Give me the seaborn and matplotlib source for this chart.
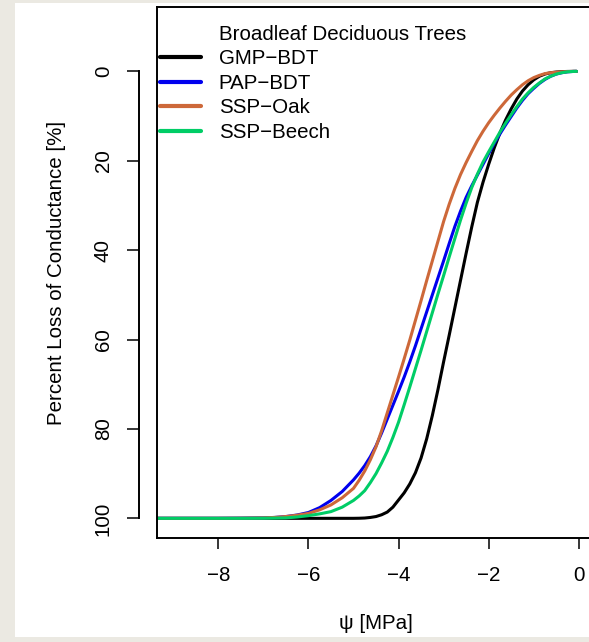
import matplotlib
matplotlib.use("Agg")
import matplotlib.pyplot as plt
from matplotlib.lines import Line2D
from matplotlib.patches import Rectangle
import pandas as pd
import seaborn as sns

# Water potential (MPa) at which the vulnerability curves are sampled
psi = [-9.4, -8.0, -7.5, -7.0, -6.75, -6.5, -6.25, -6.0, -5.75, -5.5, -5.25, -5.0,
       -4.875, -4.75, -4.625, -4.5, -4.375, -4.25, -4.125, -4.0,
       -3.875, -3.75, -3.625, -3.5, -3.375, -3.25, -3.125, -3.0,
       -2.875, -2.75, -2.625, -2.5, -2.375, -2.25, -2.125, -2.0,
       -1.875, -1.75, -1.625, -1.5, -1.375, -1.25, -1.125, -1.0,
       -0.875, -0.75, -0.625, -0.5, -0.375, -0.25, -0.125, -0.05]

# Percent loss of conductance for each model
plc_gmp_bdt = [100, 100, 100, 100, 100, 100, 100, 100, 100, 100, 100, 100,
               99.98, 99.93, 99.8, 99.6, 99.2, 98.6, 97.5, 95.9,
               94.3, 92.3, 89.8, 86.5, 82.2, 77.0, 71.2, 65.0,
               59.0, 52.9, 46.8, 40.7, 34.8, 29.3, 24.8, 20.8,
               17.1, 13.8, 10.9, 8.4, 6.2, 4.4, 3.0, 1.9,
               1.1, 0.6, 0.3, 0.15, 0.06, 0.02, 0, 0]
plc_pap_bdt = [100, 100, 99.97, 99.9, 99.8, 99.6, 99.25, 98.7, 97.6, 96.0, 94.0, 91.4,
               89.9, 88.2, 86.2, 83.8, 80.9, 77.8, 74.7, 71.6,
               68.4, 65.0, 61.4, 57.6, 53.8, 50.0, 46.2, 42.4,
               38.5, 34.7, 31.3, 28.2, 25.6, 23.2, 20.8, 18.4,
               16.1, 14.0, 12.0, 10.1, 8.2, 6.5, 5.0, 3.8,
               2.7, 1.8, 1.1, 0.6, 0.3, 0.1, 0.02, 0]
plc_ssp_oak = [100, 100, 99.97, 99.9, 99.8, 99.6, 99.3, 98.9, 98.1, 97.0, 95.4, 93.3,
               91.5, 89.4, 86.9, 84.0, 80.4, 76.4, 72.4, 68.4,
               64.3, 60.1, 55.7, 51.3, 46.8, 42.4, 38.0, 33.6,
               29.7, 26.2, 23.1, 20.4, 17.9, 15.5, 13.4, 11.5,
               9.8, 8.2, 6.7, 5.3, 4.1, 3.0, 2.1, 1.4,
               0.9, 0.5, 0.3, 0.2, 0.1, 0.05, 0.01, 0]
plc_ssp_beech = [100, 100, 100, 99.98, 99.95, 99.9, 99.7, 99.4, 99.0, 98.5, 97.5, 96.0,
                 95.0, 93.8, 92.0, 90.0, 87.6, 85.0, 81.9, 78.5,
                 74.6, 70.6, 66.5, 62.4, 58.2, 54.0, 49.8, 45.7,
                 41.5, 37.4, 33.3, 29.5, 26.0, 23.0, 20.3, 18.0,
                 15.8, 13.6, 11.6, 9.7, 7.9, 6.2, 4.8, 3.6,
                 2.6, 1.7, 1.1, 0.6, 0.3, 0.1, 0.02, 0]

models = ["GMP\u2212BDT", "PAP\u2212BDT", "SSP\u2212Oak", "SSP\u2212Beech"]
colors = ["#000000", "#0000EE", "#CD6839", "#00CD66"]
series = [plc_gmp_bdt, plc_pap_bdt, plc_ssp_oak, plc_ssp_beech]

y_ticks = [0, 20, 40, 60, 80, 100]
x_ticks = [-8, -6, -4, -2, 0]

df = pd.concat(
    [pd.DataFrame({"psi": psi, "plc": v, "model": m}) for m, v in zip(models, series)],
    ignore_index=True,
)

sns.set_theme(style="ticks")
plt.rcParams["font.family"] = ["Liberation Sans", "DejaVu Sans"]
plt.rcParams["axes.unicode_minus"] = True
for key in ["text.color", "axes.labelcolor", "xtick.color", "ytick.color", "axes.edgecolor"]:
    plt.rcParams[key] = "black"

FS = 14.8
W, H = 589, 642

fig = plt.figure(figsize=(W / 100, H / 100), dpi=100, facecolor="#EBE9E2")
fig.patches.append(Rectangle((15 / W, 5 / H), 1, 634 / H, transform=fig.transFigure,
                             facecolor="white", edgecolor="none", zorder=-5))

ax = fig.add_axes([157 / W, 104 / H, 438 / W, 531 / H])
ax.set_facecolor("white")

sns.lineplot(data=df, x="psi", y="plc", hue="model", hue_order=models,
             palette=dict(zip(models, colors)), sort=False, estimator=None,
             linewidth=2.2, legend=False, ax=ax)
for line in ax.get_lines():
    line.set_solid_joinstyle("round")

ax.set_xlim(-9.36, 0.36)
ax.set_ylim(104.4, -14.4)

for s in ["left", "top", "bottom"]:
    ax.spines[s].set_linewidth(1.4)
    ax.spines[s].set_color("black")
ax.spines["right"].set_visible(False)

ax.set_xticks(x_ticks)
ax.tick_params(axis="x", bottom=True, direction="out", length=8.0, width=1.1,
               pad=12, labelsize=FS)
ax.tick_params(axis="y", left=False, labelleft=False)
ax.set_xlabel("\u03c8 [MPa]", fontsize=FS, labelpad=21)
ax.set_ylabel("")

# Separate y axis drawn outside the plot box, spanning only the tick range
sec = ax.secondary_yaxis(-18 / 438)
sec.set_yticks(y_ticks)
sec.spines["left"].set_bounds(0, 100)
sec.spines["left"].set_linewidth(1.4)
sec.tick_params(axis="y", left=True, direction="out", length=8.6, width=1.1,
                pad=10.3, labelsize=FS, labelrotation=90)
for t in sec.get_yticklabels():
    t.set_verticalalignment("center")
sec.set_ylabel("Percent Loss of Conductance [%]", fontsize=FS, labelpad=19.8)

handles = [Line2D([], [], color=c, lw=3.0) for c in colors]
ax.legend(handles, models, loc="upper left", bbox_to_anchor=(0.007, 0.921),
          frameon=False, handlelength=2.0, handletextpad=0.85, labelspacing=0.28,
          borderaxespad=0, borderpad=0, fontsize=FS)
ax.text(0.1416, 0.949, "Broadleaf Deciduous Trees", transform=ax.transAxes,
        ha="left", va="center", fontsize=FS)

fig.savefig("out.png", dpi=100, facecolor=fig.get_facecolor())
